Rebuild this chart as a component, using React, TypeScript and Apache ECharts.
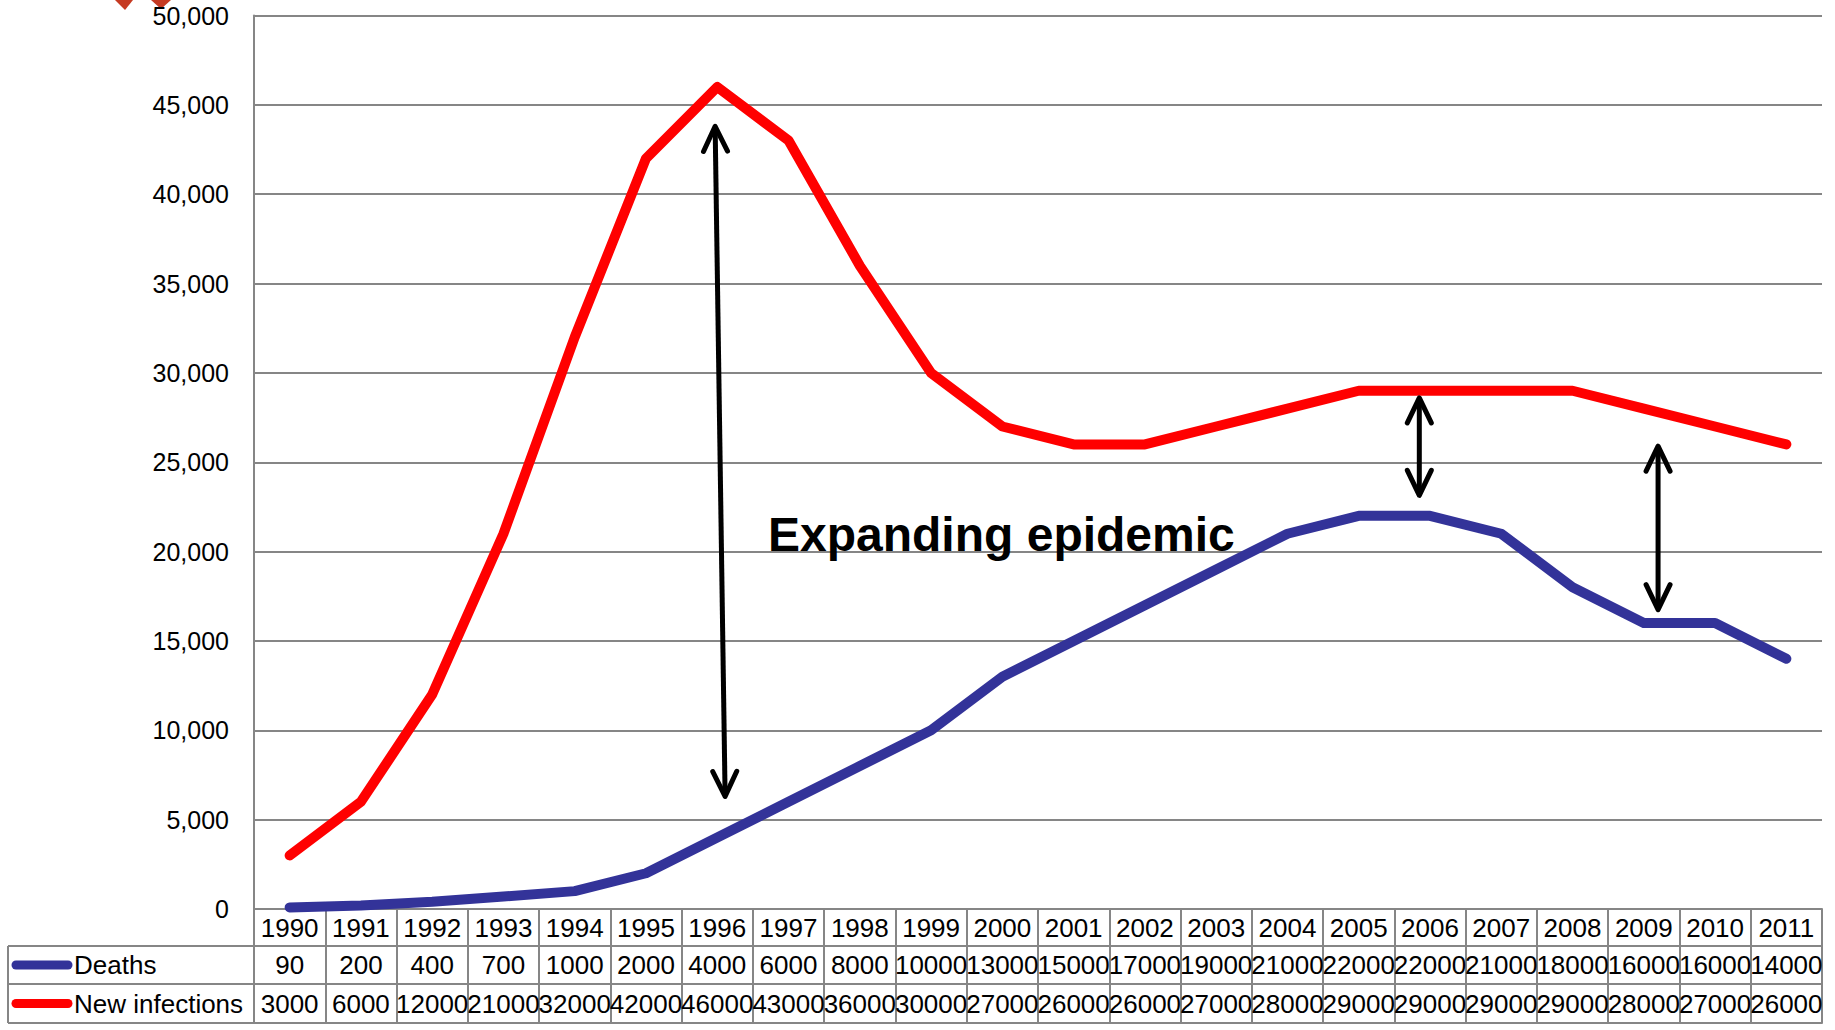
import React, { useEffect, useRef } from "react";
import * as echarts from "echarts";

// Years shown along the category axis and in the data table header
const years = [
  "1990", "1991", "1992", "1993", "1994", "1995", "1996", "1997", "1998", "1999", "2000",
  "2001", "2002", "2003", "2004", "2005", "2006", "2007", "2008", "2009", "2010", "2011",
];

// Annual deaths
const deaths = [
  90, 200, 400, 700, 1000, 2000, 4000, 6000, 8000, 10000, 13000,
  15000, 17000, 19000, 21000, 22000, 22000, 21000, 18000, 16000, 16000, 14000,
];

// Annual new infections
const newInfections = [
  3000, 6000, 12000, 21000, 32000, 42000, 46000, 43000, 36000, 30000, 27000,
  26000, 26000, 27000, 28000, 29000, 29000, 29000, 29000, 28000, 27000, 26000,
];

// Value axis range
const yMin = 0;
const yMax = 50000;
const yStep = 5000;

// Double-headed arrows marking the gap between the two series: [xIndexFrom, valueFrom, xIndexTo, valueTo]
const gapArrows: [number, number, number, number][] = [
  [5.97, 43800, 6.11, 6300],
  [15.85, 28600, 15.85, 23150],
  [19.2, 25900, 19.2, 16750],
];

const W = 1835;
const H = 1030;
const GRID_LEFT = 254;
const GRID_RIGHT = 13;
const GRID_TOP = 15.5;
const GRID_BOTTOM = 121;
const ROW1 = 37; // data-table header row height
const ROW2 = 38;
const ROW3 = 39;
const TABLE_LEFT = 8;

const BLUE = "#333399";
const RED = "#ff0000";
const GREY = "#868686";
const FONT = "'Liberation Sans', Arial, sans-serif";

export default function App() {
  const ref = useRef<HTMLDivElement>(null);

  useEffect(() => {
    const chart = echarts.init(ref.current!, null, { renderer: "svg" });

    const tableAxis = (offset: number, data: string[], margin: number, showLabel: boolean) => ({
      type: "category",
      position: "bottom",
      gridIndex: 0,
      offset,
      data,
      boundaryGap: true,
      axisLine: { show: true, lineStyle: { color: GREY, width: 2 } },
      axisTick: { show: false },
      splitLine: { show: false },
      axisLabel: {
        show: showLabel,
        interval: 0,
        margin,
        verticalAlign: "middle",
        fontSize: 26,
        color: "#000",
        fontFamily: FONT,
      },
    });

    chart.setOption({
      animation: false,
      backgroundColor: "#ffffff",
      grid: { left: GRID_LEFT, right: GRID_RIGHT, top: GRID_TOP, bottom: GRID_BOTTOM, containLabel: false },
      xAxis: [
        {
          type: "category",
          position: "bottom",
          data: years,
          boundaryGap: true,
          axisLine: { show: true, lineStyle: { color: GREY, width: 2 } },
          axisTick: {
            show: true,
            interval: 0,
            length: ROW1 + ROW2 + ROW3,
            lineStyle: { color: GREY, width: 2 },
          },
          splitLine: { show: false },
          axisLabel: {
            interval: 0,
            margin: ROW1 / 2,
            verticalAlign: "middle",
            fontSize: 26,
            color: "#000",
            fontFamily: FONT,
          },
        },
        tableAxis(ROW1, deaths.map(String), ROW2 / 2, true),
        tableAxis(ROW1 + ROW2, newInfections.map(String), ROW3 / 2, true),
        tableAxis(ROW1 + ROW2 + ROW3, years.map(() => ""), 4, false),
      ],
      yAxis: {
        type: "value",
        min: yMin,
        max: yMax,
        interval: yStep,
        axisLine: { show: true, lineStyle: { color: GREY, width: 2 } },
        axisTick: { show: false },
        splitLine: { show: true, lineStyle: { color: GREY, width: 2 } },
        axisLabel: {
          margin: 25,
          fontSize: 25,
          color: "#000",
          fontFamily: FONT,
          formatter: (v: number) => v.toLocaleString("en-US"),
        },
      },
      series: [
        {
          name: "New infections",
          type: "line",
          xAxisIndex: 0,
          data: newInfections,
          symbol: "none",
          lineStyle: { color: RED, width: 10, cap: "round", join: "round" },
          z: 3,
        },
        {
          name: "Deaths",
          type: "line",
          xAxisIndex: 0,
          data: deaths,
          symbol: "none",
          lineStyle: { color: BLUE, width: 10, cap: "round", join: "round" },
          z: 4,
        },
      ],
    });

    // Pixel position for a (possibly fractional) category index and a value
    const toPx = (xi: number, v: number) => {
      const a = chart.convertToPixel({ gridIndex: 0 }, [0, v]) as number[];
      const b = chart.convertToPixel({ gridIndex: 0 }, [1, v]) as number[];
      return [a[0] + (b[0] - a[0]) * xi, a[1]];
    };

    const arrowStyle = { stroke: "#000", lineWidth: 5, lineCap: "round", lineJoin: "round", fill: null };
    const head = (tx: number, ty: number, dx: number, dy: number) => {
      const len = 25;
      const half = 12;
      return [
        [tx + dx * len - dy * half, ty + dy * len + dx * half],
        [tx, ty],
        [tx + dx * len + dy * half, ty + dy * len - dx * half],
      ];
    };
    const arrows: any[] = [];
    gapArrows.forEach(([x1, v1, x2, v2]) => {
      const [ax, ay] = toPx(x1, v1);
      const [bx, by] = toPx(x2, v2);
      const L = Math.hypot(bx - ax, by - ay);
      const ux = (bx - ax) / L;
      const uy = (by - ay) / L;
      arrows.push({
        type: "line",
        shape: { x1: ax + ux * 2, y1: ay + uy * 2, x2: bx - ux * 2, y2: by - uy * 2 },
        style: { stroke: "#000", lineWidth: 5 },
        z: 20,
      });
      arrows.push({ type: "polyline", shape: { points: head(ax, ay, ux, uy) }, style: arrowStyle, z: 20 });
      arrows.push({ type: "polyline", shape: { points: head(bx, by, -ux, -uy) }, style: arrowStyle, z: 20 });
    });

    // Row boundaries of the data table
    const y0 = H - GRID_BOTTOM;
    const yR1 = y0 + ROW1;
    const yR2 = yR1 + ROW2;
    const yR3 = yR2 + ROW3;
    const tableLines = [yR1, yR2, yR3].map((y) => ({
      type: "line",
      shape: { x1: TABLE_LEFT, y1: y, x2: GRID_LEFT, y2: y },
      style: { stroke: GREY, lineWidth: 2 },
    }));

    const legendRow = (y: number, color: string, label: string) => [
      {
        type: "line",
        shape: { x1: 16, y1: y, x2: 68, y2: y },
        style: { stroke: color, lineWidth: 9, lineCap: "round" },
      },
      {
        type: "text",
        x: 74,
        y,
        style: { text: label, fontSize: 26, fontFamily: FONT, fill: "#000", verticalAlign: "middle", align: "left" },
      },
    ];

    chart.setOption({
      graphic: [
        ...tableLines,
        {
          type: "line",
          shape: { x1: TABLE_LEFT, y1: yR1, x2: TABLE_LEFT, y2: yR3 },
          style: { stroke: GREY, lineWidth: 2 },
        },
        ...legendRow((yR1 + yR2) / 2, BLUE, "Deaths"),
        ...legendRow((yR2 + yR3) / 2, RED, "New infections"),
        ...arrows,
        {
          type: "text",
          x: 768,
          y: 534,
          z: 20,
          style: {
            text: "Expanding epidemic",
            fontSize: 48,
            fontWeight: "bold",
            fontFamily: FONT,
            fill: "#000",
            verticalAlign: "middle",
            align: "left",
          },
        },
        // Corner of the header emblem
        {
          type: "polygon",
          shape: { points: [[115, 0], [133, 0], [125, 10]] },
          style: { fill: "#c63a22" },
        },
        {
          type: "polygon",
          shape: { points: [[151, 0], [171, 0], [161, 9]] },
          style: { fill: "#c63a22" },
        },
      ],
    });

    return () => chart.dispose();
  }, []);

  return (
    <div
      ref={ref}
      style={{ position: "fixed", left: 0, top: 0, width: W, height: H, background: "#fff" }}
    />
  );
}
